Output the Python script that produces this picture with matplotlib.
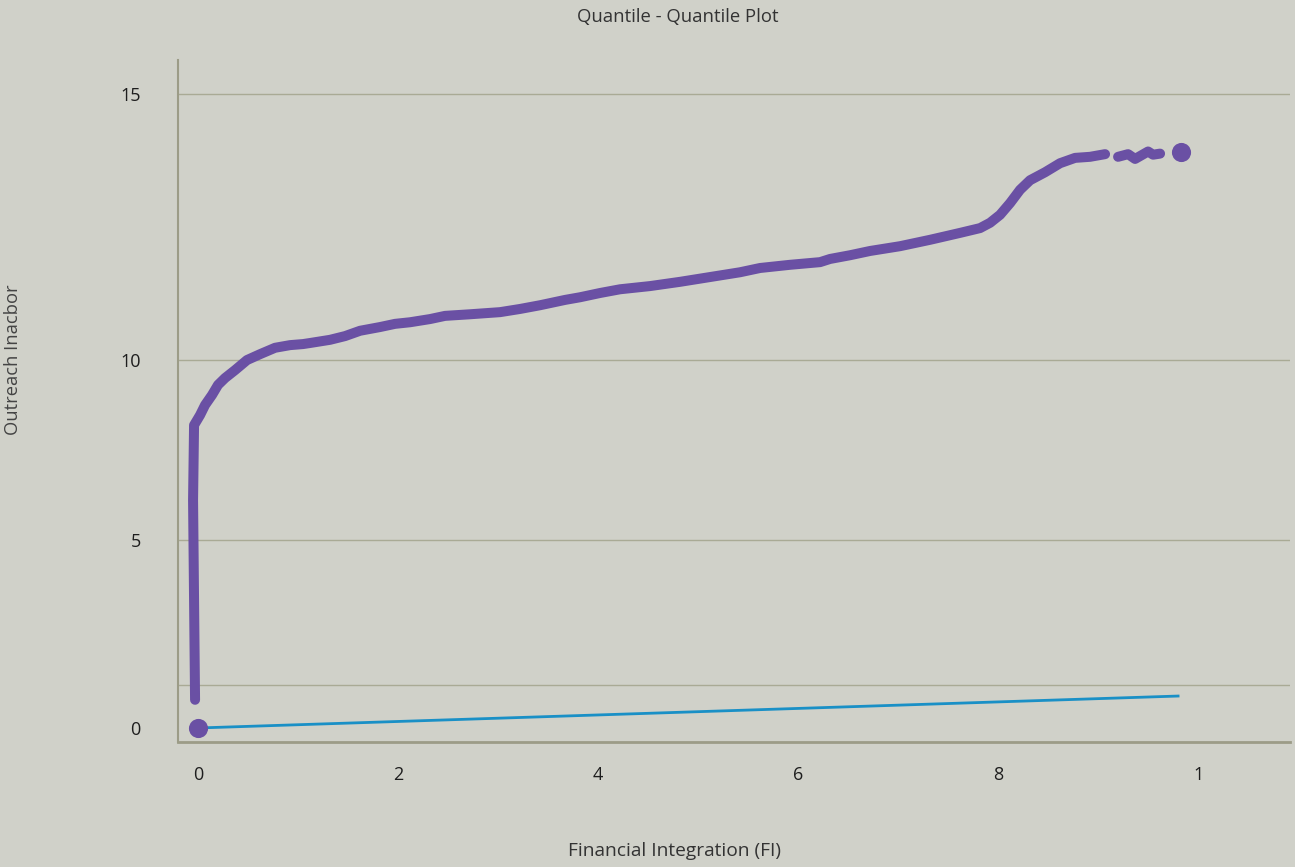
import numpy as np
import matplotlib
matplotlib.use("Agg")
import matplotlib.pyplot as plt

plt.rcParams['font.family'] = ['Open Sans', 'DejaVu Sans']

# quantile pairs (FI, outreach)
qq_x = [-0.03, -0.04, -0.05, -0.04, 0.02, 0.07, 0.14, 0.20, 0.27, 0.37, 0.49,
        0.62, 0.77, 0.92, 1.05, 1.12, 1.32, 1.47, 1.62, 1.82, 1.97, 2.12,
        2.32, 2.47, 2.72, 3.02, 3.22, 3.42, 3.67, 3.82, 4.02, 4.22, 4.52,
        4.82, 5.12, 5.42, 5.62, 5.92, 6.22, 6.32, 6.52, 6.72, 7.02, 7.32,
        7.62, 7.82, 7.92, 8.02, 8.12, 8.22, 8.32, 8.47, 8.62, 8.77, 8.92, 9.07]
qq_y = [0.75, 3.40, 6.11, 8.19, 8.47, 8.75, 9.03, 9.31, 9.50, 9.72, 10.0,
        10.11, 10.23, 10.28, 10.30, 10.32, 10.38, 10.45, 10.55, 10.62, 10.68,
        10.71, 10.77, 10.83, 10.86, 10.90, 10.96, 11.03, 11.13, 11.18, 11.26,
        11.33, 11.39, 11.47, 11.56, 11.65, 11.73, 11.79, 11.84, 11.90, 11.97,
        12.05, 12.14, 12.26, 12.39, 12.48, 12.58, 12.73, 12.95, 13.20, 13.38,
        13.53, 13.70, 13.80, 13.82, 13.87]

# upper tail piece after the gap
tail_x = [9.20, 9.30, 9.37, 9.50, 9.55, 9.62]
tail_y = [13.82, 13.87, 13.78, 13.92, 13.86, 13.88]

# isolated extreme quantiles
end_x = [0.0, 9.83]
end_y = [0.0, 13.91]

# reference line
ref_x = [0.0, 9.8]
ref_y = [0.0, 0.85]

ytick_vals = [0, 5, 10, 15]
grid_vals = [1.14, 5, 10, 15]
xtick_vals = [0, 2, 4, 6, 8, 10]
xtick_labels = ['0', '2', '4', '6', '8', '1']

# piecewise y scale
knot_v = np.array([-5, 0, 5, 10, 15, 20], dtype=float)
knot_p = np.array([-188, 0, 188, 368, 634, 900], dtype=float)


def fwd(v):
    return np.interp(v, knot_v, knot_p)


def inv(p):
    return np.interp(p, knot_p, knot_v)


bg = '#d0d1c9'
purple = '#6a50a4'

fig = plt.figure(figsize=(12.95, 8.67), dpi=100, facecolor=bg)
ax = fig.add_axes([0.1375, 0.1442, 0.8587, 0.7866], facecolor=bg)
ax.set_yscale('function', functions=(fwd, inv))

for g in grid_vals:
    ax.axhline(g, color='#a9aa95', lw=1.0, zorder=1)

ax.plot(ref_x, ref_y, color='#1a90c6', lw=2.0, zorder=2)
ax.plot(qq_x, qq_y, color=purple, lw=7.2, solid_capstyle='round',
        solid_joinstyle='round', zorder=3)
ax.plot(tail_x, tail_y, color=purple, lw=7.2, solid_capstyle='round',
        solid_joinstyle='round', zorder=3)
ax.scatter(end_x, end_y, s=190, color=purple, zorder=4, linewidths=0)

ax.set_xlim(-0.2, 10.92)
ax.set_ylim(-0.372, 15.64)

ax.set_xticks(xtick_vals)
ax.set_xticklabels(xtick_labels)
ax.set_yticks(ytick_vals)
ax.set_yticklabels([str(v) for v in ytick_vals])
ax.tick_params(axis='both', length=0, labelsize=13, colors='#1e1e1e')
ax.tick_params(axis='x', pad=17)
ax.tick_params(axis='y', pad=27)

for side in ['top', 'right']:
    ax.spines[side].set_visible(False)
ax.spines['left'].set_color('#9c9c87')
ax.spines['left'].set_linewidth(1.5)
ax.spines['bottom'].set_color('#9c9c87')
ax.spines['bottom'].set_linewidth(2.0)

fig.text(0.5235, 0.980, 'Quantile - Quantile Plot', ha='center', va='center',
         fontsize=13.3, color='#333333')
fig.text(0.521, 0.019, 'Financial Integration (FI)', ha='center', va='center',
         fontsize=13.8, color='#333333')
fig.text(0.010, 0.585, 'Outreach Inacbor', ha='center', va='center',
         rotation=90, fontsize=13.2, color='#444444')

fig.savefig('out.png', dpi=100, facecolor=bg)
